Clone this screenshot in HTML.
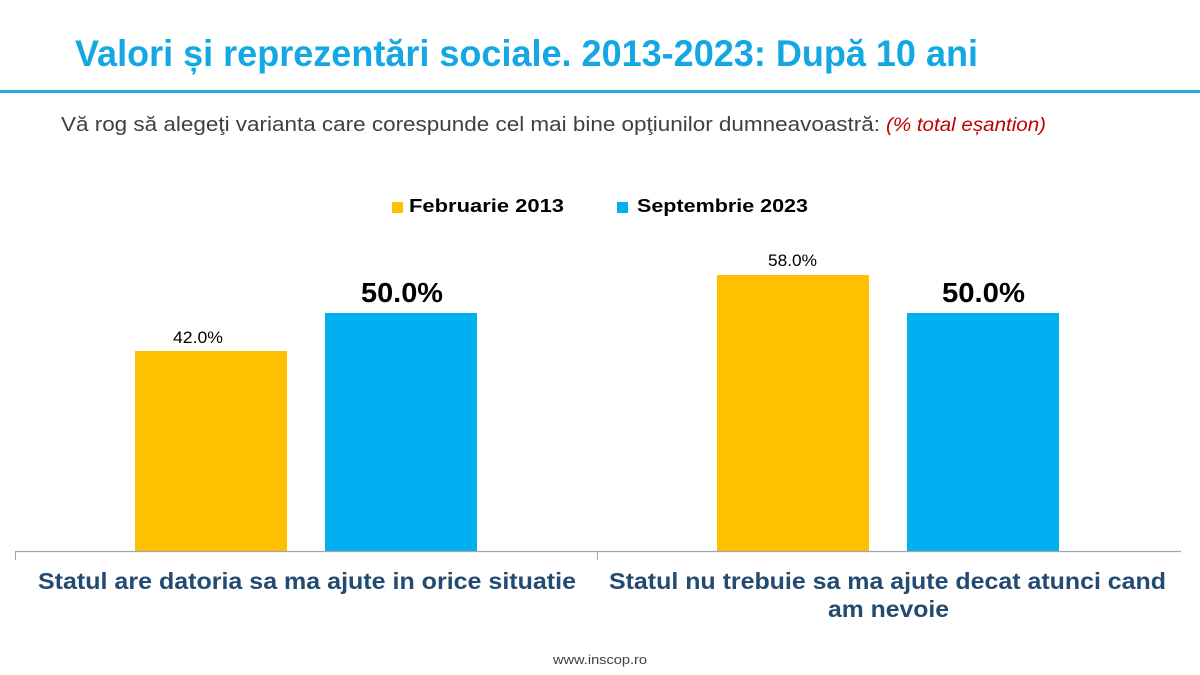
<!DOCTYPE html>
<html>
<head>
<meta charset="utf-8">
<style>
  html, body { margin:0; padding:0; background:#ffffff; }
  body { width:1200px; height:675px; overflow:hidden; }
  svg { display:block; }
</style>
</head>
<body>
<svg width="1200" height="675" viewBox="0 0 1200 675" xmlns="http://www.w3.org/2000/svg">
  <rect x="0" y="0" width="1200" height="675" fill="#ffffff"/>

  <!-- Title -->
  <text x="75" y="66" font-family="'Liberation Sans', sans-serif" font-weight="bold" font-size="37" fill="#13a7e3" textLength="903" lengthAdjust="spacingAndGlyphs">Valori și reprezentări sociale. 2013-2023: După 10 ani</text>
  <rect x="0" y="90" width="1200" height="3" fill="#29a8d8"/>

  <!-- Subtitle -->
  <text x="61" y="131" font-family="'Liberation Sans', sans-serif" font-size="20" fill="#404040" textLength="819" lengthAdjust="spacingAndGlyphs">Vă rog să alegeţi varianta care corespunde cel mai bine opţiunilor dumneavoastră:</text>
  <text x="886" y="131" font-family="'Liberation Sans', sans-serif" font-style="italic" font-size="19" fill="#c00000" textLength="160" lengthAdjust="spacingAndGlyphs">(% total eșantion)</text>

  <!-- Legend -->
  <rect x="392" y="202" width="11" height="11" fill="#ffc000"/>
  <text x="409" y="212" font-family="'Liberation Sans', sans-serif" font-weight="bold" font-size="18.5" fill="#000000" textLength="155" lengthAdjust="spacingAndGlyphs">Februarie 2013</text>
  <rect x="617" y="202" width="11" height="11" fill="#00b0f0"/>
  <text x="637" y="212" font-family="'Liberation Sans', sans-serif" font-weight="bold" font-size="18.5" fill="#000000" textLength="171" lengthAdjust="spacingAndGlyphs">Septembrie 2023</text>

  <!-- Bars -->
  <rect x="135" y="351" width="152" height="200" fill="#ffc000"/>
  <rect x="325" y="313" width="152" height="238" fill="#00b0f0"/>
  <rect x="717" y="275" width="152" height="276" fill="#ffc000"/>
  <rect x="907" y="313" width="152" height="238" fill="#00b0f0"/>

  <!-- Data labels -->
  <text x="198" y="343" text-anchor="middle" font-family="'Liberation Sans', sans-serif" font-size="16.5" fill="#000000" textLength="50" lengthAdjust="spacingAndGlyphs">42.0%</text>
  <text x="402" y="302" text-anchor="middle" font-family="'Liberation Sans', sans-serif" font-weight="bold" font-size="28" fill="#000000" textLength="82" lengthAdjust="spacingAndGlyphs">50.0%</text>
  <text x="792.5" y="266" text-anchor="middle" font-family="'Liberation Sans', sans-serif" font-size="16.5" fill="#000000" textLength="49" lengthAdjust="spacingAndGlyphs">58.0%</text>
  <text x="983.5" y="302" text-anchor="middle" font-family="'Liberation Sans', sans-serif" font-weight="bold" font-size="28" fill="#000000" textLength="83" lengthAdjust="spacingAndGlyphs">50.0%</text>

  <!-- Axis -->
  <line x1="15" y1="551.5" x2="1181" y2="551.5" stroke="#a6a6a6" stroke-width="1.3"/>
  <line x1="15.5" y1="551" x2="15.5" y2="560" stroke="#a6a6a6" stroke-width="1"/>
  <line x1="597.5" y1="551" x2="597.5" y2="560" stroke="#a6a6a6" stroke-width="1"/>

  <!-- Category labels -->
  <text x="38" y="589" font-family="'Liberation Sans', sans-serif" font-weight="bold" font-size="23.5" fill="#234a70" textLength="538" lengthAdjust="spacingAndGlyphs">Statul are datoria sa ma ajute in orice situatie</text>
  <text x="609" y="589" font-family="'Liberation Sans', sans-serif" font-weight="bold" font-size="23.5" fill="#234a70" textLength="557" lengthAdjust="spacingAndGlyphs">Statul nu trebuie sa ma ajute decat atunci cand</text>
  <text x="828" y="617" font-family="'Liberation Sans', sans-serif" font-weight="bold" font-size="23.5" fill="#234a70" textLength="121" lengthAdjust="spacingAndGlyphs">am nevoie</text>

  <!-- Footer -->
  <text x="553" y="664" font-family="'Liberation Sans', sans-serif" font-size="13" fill="#404040" textLength="94" lengthAdjust="spacingAndGlyphs">www.inscop.ro</text>
</svg>
</body>
</html>
